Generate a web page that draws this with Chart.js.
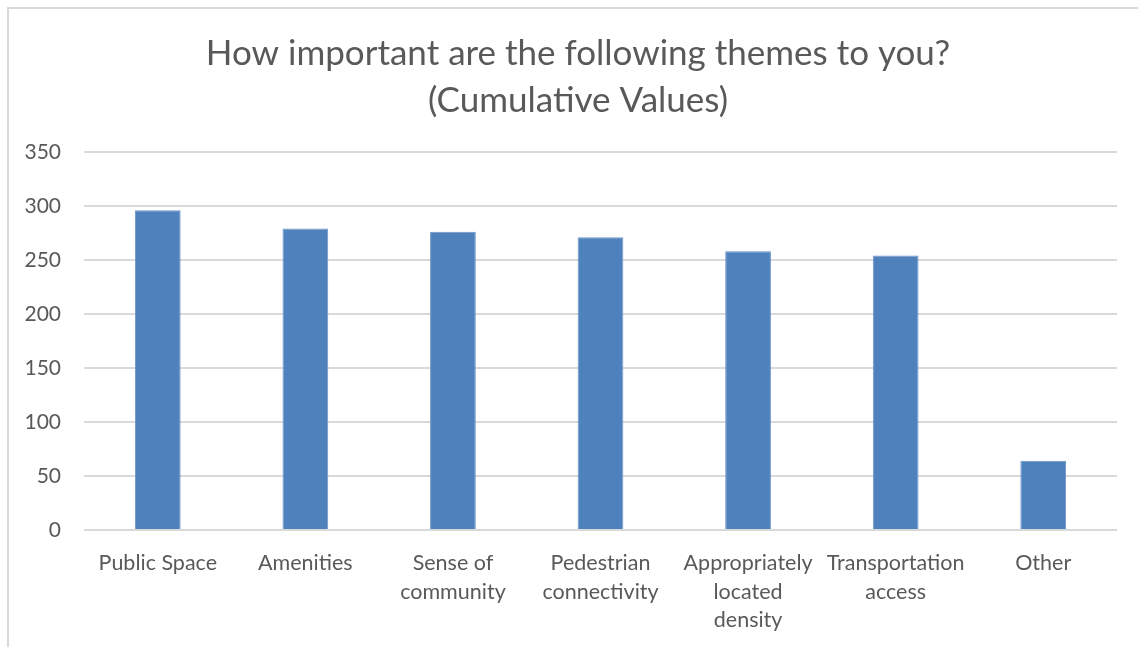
<!DOCTYPE html>
<html>
<head>
<meta charset="utf-8">
<script src="https://cdn.jsdelivr.net/npm/chart.js@4/dist/chart.umd.min.js"></script>
<style>
  html, body { margin: 0; padding: 0; background: #fff; }
  #wrap { position: relative; width: 1138px; height: 647px; overflow: hidden; }
  #frame { position: absolute; left: 7px; top: 7px; width: 1200px; height: 700px;
           border: 2px solid #d9d9d9; box-sizing: border-box; }
  canvas { position: absolute; left: 0; top: 0; }
</style>
</head>
<body>
<div id="wrap">
  <div id="frame"></div>
  <canvas id="themesChart" width="1138" height="647"></canvas>
</div>
<script>
// themes and their cumulative scores
const themes = [
  'Public Space',
  'Amenities',
  ['Sense of', 'community'],
  ['Pedestrian', 'connectivity'],
  ['Appropriately', 'located', 'density'],
  ['Transportation', 'access'],
  'Other'
];
const cumulative = [296, 279, 276, 271, 258, 254, 64];
const titleLines = ['How important are the following themes to you?', '(Cumulative Values)'];
const yMax = 350;
const yStep = 50;

const textColor = '#595959';
const gridColor = '#d9d9d9';
const family = 'Lato, "Open Sans", sans-serif';

// centre the title inside the frame rather than over the whole canvas
const titleShift = {
  id: 'titleShift',
  afterLayout(chart) {
    const t = chart.titleBlock;
    if (t) { t.left = 39; t.width = t.right - t.left; }
  }
};

const ctx = document.getElementById('themesChart').getContext('2d');
new Chart(ctx, {
  type: 'bar',
  data: {
    labels: themes,
    datasets: [{
      data: cumulative,
      backgroundColor: '#4f81bd',
      borderColor: '#6d96c8',
      borderWidth: 1,
      barPercentage: 0.31,
      categoryPercentage: 1
    }]
  },
  plugins: [titleShift],
  options: {
    responsive: false,
    animation: false,
    layout: { padding: { left: 0, right: 21, top: 0, bottom: 0 } },
    plugins: {
      legend: { display: false },
      tooltip: { enabled: false },
      title: {
        display: true,
        text: titleLines,
        color: textColor,
        font: { family, size: 35, weight: 'normal', lineHeight: 1.34 },
        padding: { top: 30, bottom: 28 }
      }
    },
    scales: {
      x: {
        afterFit: s => { s.height = 117; },
        grid: { display: false },
        border: { display: false },
        ticks: {
          color: textColor,
          font: { family, size: 21.5, lineHeight: 1.33 },
          padding: 11,
          maxRotation: 0,
          autoSkip: false
        }
      },
      y: {
        min: 0,
        max: yMax,
        afterFit: s => { s.width = 84; },
        grid: { color: gridColor, lineWidth: 2, drawTicks: false },
        border: { display: false },
        ticks: {
          stepSize: yStep,
          color: textColor,
          font: { family, size: 21 },
          padding: 23
        }
      }
    }
  }
});
</script>
</body>
</html>
